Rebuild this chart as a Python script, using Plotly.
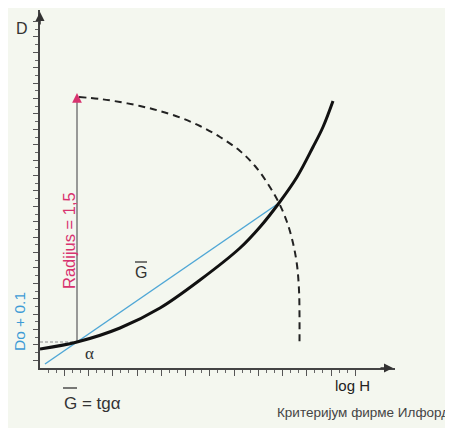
import plotly.graph_objects as go

# ---- data (log H, D) in chart units ----
curve_logH = [0.00, 0.37, 0.80, 1.20, 1.60, 2.00, 2.20, 2.39, 2.57, 2.73, 2.83, 2.93]
curve_D    = [0.19, 0.26, 0.40, 0.60, 0.88, 1.20, 1.41, 1.65, 1.91, 2.21, 2.41, 2.67]

gbar_logH = [0.05, 0.37, 2.39]
gbar_D    = [0.04, 0.26, 1.65]

radius_logH = [0.37, 0.37]
radius_D    = [0.26, 2.73]

do_level_logH = [0.00, 0.37]
do_level_D    = [0.26, 0.26]

arc_logH = [0.39, 0.60, 0.80, 1.00, 1.18, 1.40, 1.60, 1.80, 2.00, 2.15, 2.28, 2.39,
            2.47, 2.53, 2.57, 2.59, 2.595, 2.595]
arc_D    = [2.71, 2.69, 2.66, 2.62, 2.575, 2.505, 2.42, 2.31, 2.17, 2.02, 1.84, 1.65,
            1.46, 1.25, 1.03, 0.78, 0.53, 0.26]

x_major = [round(0.2425 * k, 4) for k in range(1, 14)]
x_minor = [round(0.2425 * k / 3, 4) for k in range(1, 40) if k % 3]
y_major = [round(0.077 + 0.154 * k, 4) for k in range(0, 23)]
y_minor = [round(0.154 + 0.154 * k, 4) for k in range(0, 22)]

OFF = 8  # page body margin offset
W, H = 453 - OFF, 428 - OFF
L, R, T, B = 40 - OFF, 58, 10 - OFF, 60
pw, ph = W - L - R, H - T - B

def P(px, py):
    return (px - OFF - L) / pw, (H - B - (py - OFF)) / ph

bg = "#f4f7ef"
fig = go.Figure()

fig.add_trace(go.Scatter(x=do_level_logH, y=do_level_D, mode="lines",
                         line=dict(color="#8a8a8a", width=1, dash="3px,2px"), hoverinfo="skip"))
fig.add_trace(go.Scatter(x=radius_logH, y=radius_D, mode="lines",
                         line=dict(color="#7a7a7a", width=1.5), hoverinfo="skip"))
fig.add_trace(go.Scatter(x=arc_logH, y=arc_D, mode="lines", line_shape="spline",
                         line=dict(color="#222222", width=2, dash="7px,5px", smoothing=1),
                         hoverinfo="skip"))
fig.add_trace(go.Scatter(x=gbar_logH, y=gbar_D, mode="lines",
                         line=dict(color="#4fa7d6", width=1.5), hoverinfo="skip"))
fig.add_trace(go.Scatter(x=curve_logH, y=curve_D, mode="lines", line_shape="spline",
                         line=dict(color="#111111", width=3), hoverinfo="skip"))

ann = []
# axis arrows
ann.append(dict(x=3.53, y=0, xref="x", yref="y", ax=-14, ay=0, showarrow=True,
                arrowhead=2, arrowsize=1.2, arrowwidth=1.5, arrowcolor="#333", text=""))
ann.append(dict(x=0, y=3.56, xref="x", yref="y", ax=0, ay=14, showarrow=True,
                arrowhead=2, arrowsize=1.2, arrowwidth=1.5, arrowcolor="#333", text=""))
# pink arrow head on radius
ann.append(dict(x=radius_logH[1], y=radius_D[1] + 0.02, xref="x", yref="y", ax=0, ay=8,
                showarrow=True, arrowhead=2, arrowsize=1.3, arrowwidth=1.5,
                arrowcolor="#d8336f", text=""))

def txt(px, py, s, size=13, color="#333", angle=0, family="Liberation Sans, Arial, sans-serif",
        xanchor="center"):
    x, y = P(px, py)
    ann.append(dict(x=x, y=y, xref="paper", yref="paper", text=s, showarrow=False,
                    textangle=angle, xanchor=xanchor, yanchor="middle",
                    font=dict(size=size, color=color, family=family)))

txt(22, 28, "D", size=16)
txt(69, 241, "Radijus = 1,5", size=16.5, color="#d8336f", angle=-90)
txt(19, 322, "Do + 0.1", size=15.5, color="#3d9bd6", angle=-90)
txt(141, 272, "G", size=16)
txt(89, 353, "α", size=17, family="Liberation Serif, serif")
txt(62, 403, "G = tgα", size=17, xanchor="left")
txt(352, 385, "log H", size=15, color="#222")
txt(451, 412, "Критеријум фирме Илфорд", size=13.5, color="#444", xanchor="right")

shapes = []
for (x0, x1, yy) in [(135, 147, 262), (63, 77, 388)]:
    a0, b0 = P(x0, yy)
    a1, _ = P(x1, yy)
    shapes.append(dict(type="line", xref="paper", yref="paper", x0=a0, x1=a1, y0=b0, y1=b0,
                       line=dict(color="#333", width=1.3)))

fig.update_layout(
    width=W, height=H, margin=dict(l=L, r=R, t=T, b=B),
    paper_bgcolor=bg, plot_bgcolor=bg, showlegend=False,
    annotations=ann, shapes=shapes,
    xaxis=dict(range=[0, pw / 100], showgrid=False, zeroline=False, showline=True,
               linecolor="#444", linewidth=1.5, ticks="outside", ticklen=6, tickwidth=1,
               tickcolor="#555", tickmode="array", tickvals=x_major, showticklabels=False,
               minor=dict(tickmode="array", tickvals=x_minor, ticks="outside", ticklen=3,
                          tickcolor="#666")),
    yaxis=dict(range=[0, ph / 100], showgrid=False, zeroline=False, showline=True,
               linecolor="#444", linewidth=1.5, ticks="outside", ticklen=5, tickwidth=1,
               tickcolor="#555", tickmode="array", tickvals=y_major, showticklabels=False,
               minor=dict(tickmode="array", tickvals=y_minor, ticks="outside", ticklen=3,
                          tickcolor="#666")),
)

fig.write_html("out.html")
